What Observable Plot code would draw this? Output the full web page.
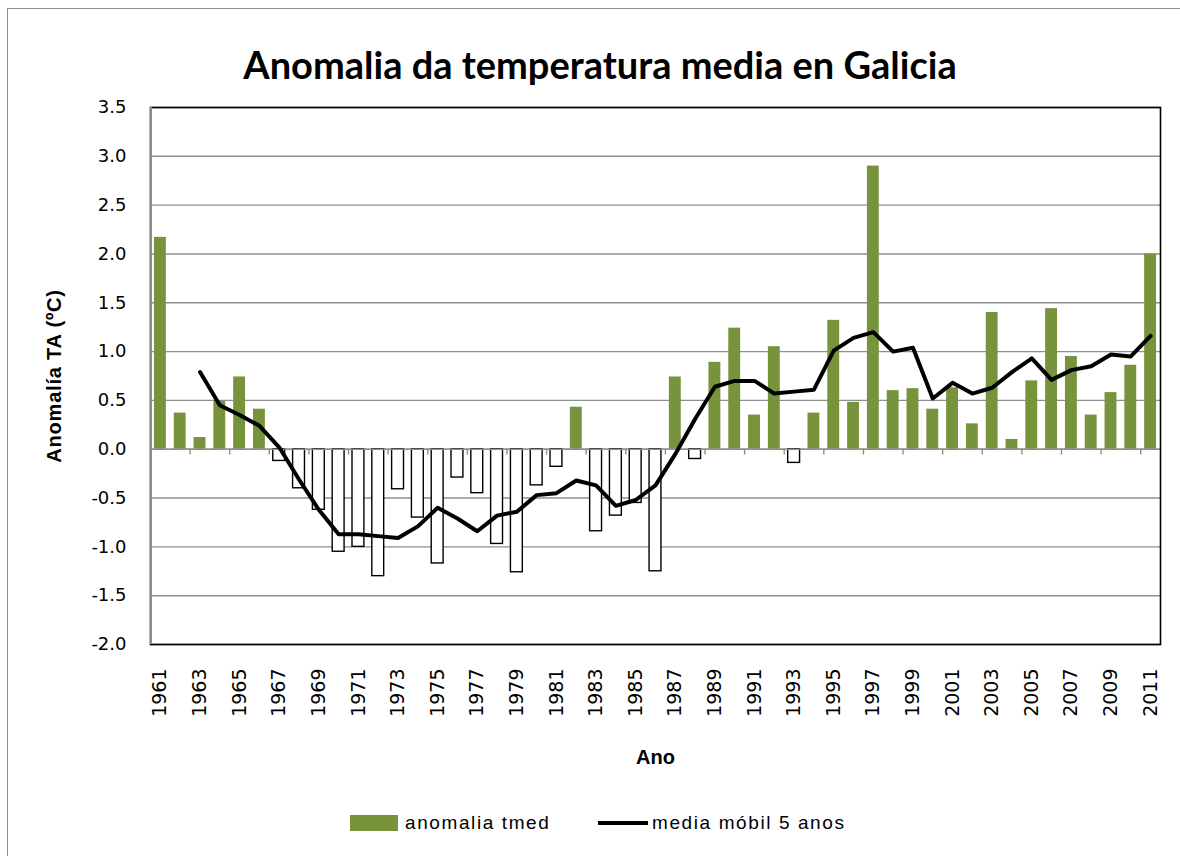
<!DOCTYPE html>
<html>
<head>
<meta charset="utf-8">
<script src="https://cdn.jsdelivr.net/npm/d3@7"></script>
<script src="https://cdn.jsdelivr.net/npm/@observablehq/plot@0.6"></script>
<style>
  html, body { margin: 0; padding: 0; background: #fff; }
  #wrap { position: relative; width: 1180px; height: 856px; overflow: hidden; }
  #border { position: absolute; left: 7px; top: 8px; width: 1190px; height: 870px; border: 1.5px solid #8c8c8c; box-sizing: border-box; }
  #title { position: absolute; left: 0; top: 42px; width: 1200px; text-align: center; font-family: Lato, sans-serif; font-weight: 700; font-size: 38px; line-height: 44px; color: #000; }
  #chart { position: absolute; left: 0; top: 90px; }
  #legend { position: absolute; top: 810px; left: 0; width: 1180px; height: 26px; font-family: "Liberation Sans", sans-serif; font-size: 19px; letter-spacing: 1.6px; color: #000; }
  .sw { position: absolute; }
  .lt { position: absolute; top: 0; line-height: 26px; }
</style>
</head>
<body>
<div id="wrap">
  <div id="border"></div>
  <div id="title">Anomalia da temperatura media en Galicia</div>
  <div id="chart"></div>
  <div id="legend">
    <div class="sw" style="left:350px;top:5px;width:48px;height:16px;background:#77933C"></div>
    <div class="lt" style="left:405px">anomalia tmed</div>
    <div class="sw" style="left:598px;top:11px;width:50px;height:4px;background:#000"></div>
    <div class="lt" style="left:652px">media móbil 5 anos</div>
  </div>
</div>
<script>
const years = [1961,1962,1963,1964,1965,1966,1967,1968,1969,1970,
  1971,1972,1973,1974,1975,1976,1977,1978,1979,1980,
  1981,1982,1983,1984,1985,1986,1987,1988,1989,1990,
  1991,1992,1993,1994,1995,1996,1997,1998,1999,2000,
  2001,2002,2003,2004,2005,2006,2007,2008,2009,2010,2011];

const anomalia = [2.17,0.37,0.12,0.49,0.74,0.41,-0.12,-0.40,-0.62,-1.05,
  -1.00,-1.30,-0.41,-0.70,-1.17,-0.29,-0.45,-0.97,-1.26,-0.37,
  -0.18,0.43,-0.84,-0.68,-0.55,-1.25,0.74,-0.10,0.89,1.24,
  0.35,1.05,-0.14,0.37,1.32,0.48,2.90,0.60,0.62,0.41,
  0.63,0.26,1.40,0.10,0.70,1.44,0.95,0.35,0.58,0.86,2.00];

const mediaYears = [1963,1964,1965,1966,1967,1968,1969,1970,
  1971,1972,1973,1974,1975,1976,1977,1978,1979,1980,
  1981,1982,1983,1984,1985,1986,1987,1988,1989,1990,
  1991,1992,1993,1994,1995,1996,1997,1998,1999,2000,
  2001,2002,2003,2004,2005,2006,2007,2008,2009,2010,2011];

const mediaMobil = [0.79,0.45,0.35,0.24,0.02,-0.31,-0.62,-0.87,
  -0.87,-0.89,-0.91,-0.79,-0.60,-0.71,-0.84,-0.68,-0.64,-0.47,
  -0.45,-0.32,-0.37,-0.58,-0.52,-0.37,-0.05,0.31,0.64,0.70,
  0.70,0.57,0.59,0.61,1.01,1.14,1.20,1.00,1.04,0.52,
  0.68,0.57,0.63,0.79,0.93,0.71,0.81,0.85,0.97,0.95,1.16];

const yTicks = [-2.0,-1.5,-1.0,-0.5,0.0,0.5,1.0,1.5,2.0,2.5,3.0,3.5];
const xLabelYears = [1961,1963,1965,1967,1969,1971,1973,1975,1977,1979,1981,1983,1985,
  1987,1989,1991,1993,1995,1997,1999,2001,2003,2005,2007,2009,2011];
const tickYears = xLabelYears.slice(1);

const bars = years.map((y, i) => ({year: y, value: anomalia[i]}));
const media = mediaYears.map((y, i) => ({year: y, value: mediaMobil[i]}));

const W = 1180, H = 700;
const mL = 150, mR = 20, mT = 17, mB = 146;
const step = (W - mL - mR) / years.length;
const green = "#77933C";
const gridColor = "#8f8f8f";

const chart = Plot.plot({
  width: W,
  height: H,
  marginLeft: mL,
  marginRight: mR,
  marginTop: mT,
  marginBottom: mB,
  style: {background: "transparent", overflow: "visible"},
  x: {type: "band", domain: years, paddingInner: 0.4, paddingOuter: 0.2, label: null},
  y: {domain: [-2, 3.5], label: null},
  marks: [
    Plot.gridY(yTicks, {stroke: gridColor, strokeOpacity: 1, strokeWidth: 1.4}),
    Plot.barY(bars.filter(d => d.value >= 0), {x: "year", y: "value", fill: green}),
    Plot.barY(bars.filter(d => d.value < 0), {x: "year", y: "value", fill: "#fff", stroke: "#000", strokeWidth: 1.4}),
    Plot.ruleY([0], {stroke: gridColor, strokeWidth: 1.6}),
    Plot.ruleX(tickYears, {x: d => d, y1: 0, y2: -0.06, dx: -step / 2, stroke: gridColor, strokeWidth: 1.4}),
    Plot.line(media, {x: "year", y: "value", stroke: "#000", strokeWidth: 4, strokeLinejoin: "round", strokeLinecap: "round"}),
    Plot.axisY(yTicks, {tickSize: 0, tickPadding: 24, tickFormat: d => d.toFixed(1), fontSize: 18, fontFamily: "DejaVu Sans", label: null}),
    Plot.axisX(xLabelYears, {tickSize: 0, tickPadding: 24, tickRotate: -90, tickFormat: d => String(d), fontSize: 19, fontFamily: "DejaVu Sans", label: null}),
    Plot.frame({stroke: "#000", strokeWidth: 1.6}),
    Plot.ruleX([years[0]], {x: d => d, dx: -step / 2 + 0.5, stroke: "#8c8c8c", strokeWidth: 2}),
    Plot.text(["Anomalía TA (ºC)"], {frameAnchor: "left", dx: -96, rotate: -90, text: d => d, fontSize: 20, fontWeight: "bold", fontFamily: "Liberation Sans", textAnchor: "middle", lineAnchor: "middle", fill: "#000", style: "letter-spacing:0.8px"}),
    Plot.text(["Ano"], {frameAnchor: "bottom", dy: 113, text: d => d, fontSize: 20, fontWeight: "bold", fontFamily: "Liberation Sans", textAnchor: "middle", lineAnchor: "middle", fill: "#000"})
  ]
});
document.getElementById("chart").appendChild(chart);
const yt = chart.querySelectorAll("text");
yt.forEach(t => { if (t.textContent === "Anomalía TA (ºC)") t.style.letterSpacing = "0.8px"; });
</script>
</body>
</html>
